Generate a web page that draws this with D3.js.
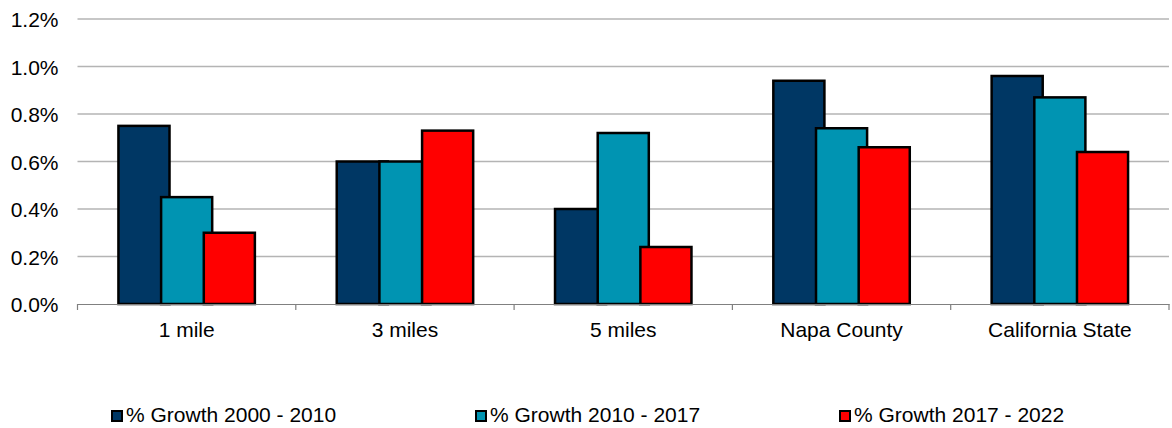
<!DOCTYPE html>
<html>
<head>
<meta charset="utf-8">
<script src="https://cdn.jsdelivr.net/npm/d3@7"></script>
<style>
  html, body { margin: 0; padding: 0; background: #fff; }
  svg { display: block; font-family: "Liberation Sans", Arial, sans-serif; }
</style>
</head>
<body>
<svg id="chart" width="1172" height="428"></svg>
<script>
// Average annual population growth by area
const categories = ["1 mile", "3 miles", "5 miles", "Napa County", "California State"];
const seriesNames = ["% Growth 2000 - 2010", "% Growth 2010 - 2017", "% Growth 2017 - 2022"];
const growth2000_2010 = [0.0075, 0.0060, 0.0040, 0.0094, 0.0096];
const growth2010_2017 = [0.0045, 0.0060, 0.0072, 0.0074, 0.0087];
const growth2017_2022 = [0.0030, 0.0073, 0.0024, 0.0066, 0.0064];
const yTicks = [0, 0.002, 0.004, 0.006, 0.008, 0.010, 0.012];
const seriesColors = ["#003764", "#0094B2", "#FF0000"];

const seriesValues = [growth2000_2010, growth2010_2017, growth2017_2022];
const fontSize = 21;

const svg = d3.select("#chart");
const plotLeft = 77.5, plotRight = 1169, plotTop = 19, plotBottom = 304;

const x0 = d3.scaleBand().domain(categories).range([plotLeft, plotRight]).padding(0);
const bw = x0.bandwidth();
const step = bw * 0.1955;
const x1 = d3.scaleBand().domain(seriesNames).range([-1.5 * step, 1.5 * step]).padding(0);
const barW = bw * 0.234;

const y = d3.scaleLinear().domain([0, 0.012]).range([plotBottom, plotTop]);

// horizontal gridlines
svg.append("g")
  .selectAll("line")
  .data(yTicks.filter(t => t > 0))
  .join("line")
  .attr("x1", plotLeft).attr("x2", plotRight)
  .attr("y1", d => y(d)).attr("y2", d => y(d))
  .attr("stroke", "#b4b4b4")
  .attr("stroke-width", 1.3);

// y tick labels
const yAxis = d3.axisLeft(y).tickValues(yTicks).tickSize(0).tickPadding(0)
  .tickFormat(d3.format(".1%"));
const gy = svg.append("g").attr("transform", `translate(${plotLeft - 19},0)`).call(yAxis);
gy.select(".domain").remove();
gy.selectAll("text").attr("font-size", fontSize).attr("fill", "#000")
  .attr("font-family", "'Liberation Sans', Arial, sans-serif").attr("dy", "0.36em");

// bars, drawn series by series so later series overlap earlier ones
seriesNames.forEach((name, si) => {
  svg.append("g")
    .selectAll("rect")
    .data(categories.map((c, ci) => ({ c, v: seriesValues[si][ci] })))
    .join("rect")
    .attr("x", d => x0(d.c) + bw / 2 + x1(name) + x1.bandwidth() / 2 - barW / 2)
    .attr("width", barW)
    .attr("y", d => y(d.v))
    .attr("height", d => y(0) - y(d.v))
    .attr("fill", seriesColors[si])
    .attr("stroke", "#000")
    .attr("stroke-width", 2.5);
});

// category axis
const xAxis = d3.axisBottom(x0).tickSize(0).tickPadding(0);
const gx = svg.append("g").attr("transform", `translate(0,${plotBottom})`).call(xAxis);
gx.select(".domain").attr("stroke", "#808080").attr("stroke-width", 1.2);
gx.selectAll("text").attr("font-size", fontSize).attr("fill", "#000")
  .attr("font-family", "'Liberation Sans', Arial, sans-serif")
  .attr("dy", null).attr("y", 32.5);
// tick marks at category boundaries
const bounds = categories.map(c => x0(c)).concat([plotRight]);
gx.selectAll(".bound").data(bounds).join("line").attr("class", "bound")
  .attr("x1", d => d).attr("x2", d => d).attr("y1", 0).attr("y2", 6)
  .attr("stroke", "#808080").attr("stroke-width", 1.2);

// legend
const legendX = [111, 475, 839];
const lg = svg.append("g");
seriesNames.forEach((name, i) => {
  const g = lg.append("g").attr("transform", `translate(${legendX[i]},410)`);
  g.append("rect").attr("x", 1).attr("y", 1).attr("width", 10).attr("height", 10)
    .attr("fill", seriesColors[i]).attr("stroke", "#000").attr("stroke-width", 2);
  g.append("text").attr("x", 15).attr("y", 12).attr("font-size", fontSize).attr("fill", "#000")
    .text(name);
});
</script>
</body>
</html>
